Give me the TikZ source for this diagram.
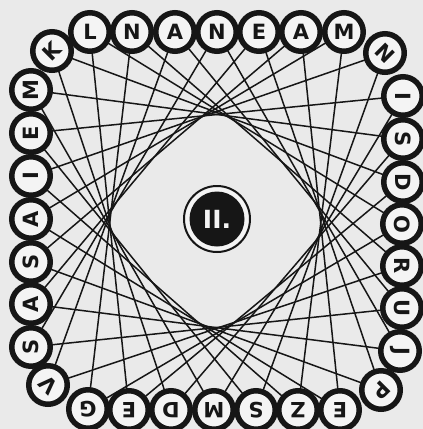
\documentclass[tikz,border=0pt]{standalone}
\usepackage{fontspec}
\setmainfont{DejaVu Sans}
\definecolor{paper}{RGB}{234,234,234}
\definecolor{inside}{RGB}{244,244,244}
\definecolor{ink}{RGB}{22,22,22}
\pgfdeclarelayer{paperlayer}
\pgfdeclarelayer{chordlayer}
\pgfsetlayers{paperlayer,chordlayer,main}
\begin{document}
\begin{tikzpicture}[x=1pt,y=-1pt,
  ball/.style={circle, draw=ink, line width=5.5pt, fill=inside, minimum size=38.5pt,
    inner sep=0pt, text=ink, font=\bfseries\fontsize{21}{21}\selectfont},
  chord/.style={draw=ink, line width=1.5pt},
  badge/.style={circle, fill=ink, minimum size=55pt, inner sep=0pt, text=inside,
    font=\bfseries\fontsize{25}{25}\selectfont},
  badgering/.style={circle, draw=ink, line width=2pt, fill=inside, minimum size=66pt, inner sep=0pt}
]
\useasboundingbox (0,0) rectangle (423,429);
\begin{pgfonlayer}{paperlayer}
  \fill[paper] (0,0) rectangle (423,429);
\end{pgfonlayer}
\foreach \i/\px/\py/\l/\r in {
  0/52/51/K/45, 1/90/32/L/0, 2/132/32/N/0, 3/175/32/A/0, 4/217/32/N/0,
  5/259/32/E/0, 6/301/32/A/0, 7/344/32/M/0, 8/385/53/N/-45,
  9/403/96/I/-90, 10/403/139/S/-90, 11/403/182/D/-90, 12/402/224/O/-90,
  13/402/266/R/-90, 14/402/308/U/-90, 15/400/351/J/-90, 16/381/390/P/-135,
  17/340/410/E/180, 18/298/410/Z/180, 19/256/410/S/180, 20/214/410/M/180,
  21/171/410/D/180, 22/129/410/E/180, 23/88/409/G/180, 24/48/385/V/135,
  25/31/347/S/90, 26/31/304/A/90, 27/31/262/S/90, 28/31/219/A/90,
  29/31/176/I/90, 30/31/133/E/90, 31/31/90/M/90}
{
  \node[ball, rotate=\r] (n\i) at (\px,\py) {\l};
}
\begin{pgfonlayer}{chordlayer}
  \foreach \i in {0,...,31}{
    \pgfmathtruncatemacro\j{mod(\i+11,32)}
    \draw[chord] (n\i.center) -- (n\j.center);
  }
\end{pgfonlayer}
\node[badgering] (ring) at (217,219) {};
\node[badge] (title) at (ring.center) {II.};
\end{tikzpicture}
\end{document}
